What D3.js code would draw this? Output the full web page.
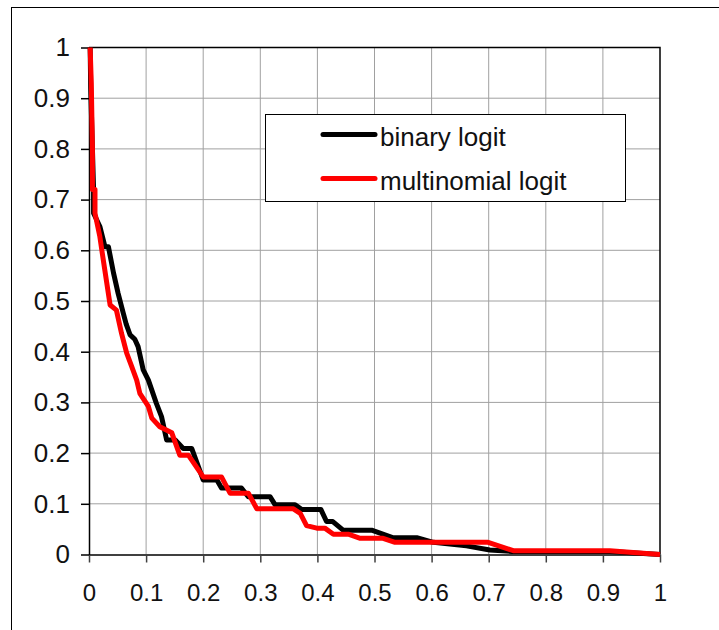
<!DOCTYPE html>
<html>
<head>
<meta charset="utf-8">
<script src="https://cdn.jsdelivr.net/npm/d3@7"></script>
<style>
body { margin: 0; background: white; }
text { font-family: Arial, "Liberation Sans", sans-serif; fill: #111; }
</style>
</head>
<body>
<div id="chart"></div>
<script>
var ticks = [0, 0.1, 0.2, 0.3, 0.4, 0.5, 0.6, 0.7, 0.8, 0.9, 1]
var tickLabels = ["0", "0.1", "0.2", "0.3", "0.4", "0.5", "0.6", "0.7", "0.8", "0.9", "1"]
var seriesNames = ["binary logit", "multinomial logit"]
var seriesColors = ["#000000", "#ff0000"]

var binaryX = [0.002,0.003,0.006,0.008,0.008,0.019,0.028,0.034,0.043,0.051,0.06,0.065,0.072,0.08,0.086,0.095,0.104,0.118,0.127,0.136,0.151,0.165,0.18,0.2,0.224,0.232,0.267,0.279,0.317,0.326,0.361,0.372,0.406,0.416,0.427,0.445,0.495,0.533,0.574,0.603,0.661,0.702,0.74,0.912,1]
var binaryY = [1.0,0.92,0.8,0.72,0.673,0.647,0.607,0.607,0.555,0.515,0.476,0.455,0.433,0.425,0.41,0.364,0.344,0.298,0.272,0.226,0.226,0.209,0.209,0.147,0.147,0.131,0.131,0.114,0.114,0.098,0.098,0.089,0.089,0.065,0.065,0.048,0.048,0.033,0.033,0.024,0.017,0.009,0.006,0.006,0]

var multiX = [0.002,0.004,0.006,0.006,0.0105,0.0105,0.019,0.025,0.037,0.048,0.057,0.066,0.075,0.0835,0.089,0.104,0.11,0.124,0.145,0.159,0.174,0.2,0.232,0.247,0.279,0.294,0.358,0.37,0.381,0.399,0.413,0.428,0.454,0.475,0.515,0.536,0.699,0.743,0.912,1]
var multiY = [1.0,0.93,0.8,0.72,0.72,0.673,0.627,0.581,0.492,0.482,0.436,0.397,0.37,0.344,0.318,0.292,0.269,0.252,0.24,0.196,0.196,0.153,0.153,0.121,0.121,0.09,0.09,0.081,0.057,0.052,0.052,0.04,0.04,0.032,0.032,0.024,0.024,0.0075,0.0075,0]

var width = 719, height = 630

var svg = d3.select("#chart").append("svg")
    .attr("width", width)
    .attr("height", height)

// outer frame (runs off the right and bottom)
svg.append("rect")
    .attr("x", 11.5).attr("y", 7.5)
    .attr("width", 800).attr("height", 700)
    .attr("fill", "none").attr("stroke", "#000")

var x = d3.scaleLinear().domain([0, 1]).range([89, 660])
var y = d3.scaleLinear().domain([0, 1]).range([554.5, 47.5])

// grid
svg.selectAll(".vgrid").data(ticks.slice(1, -1)).enter().append("line")
    .attr("x1", function(d) { return x(d) }).attr("x2", function(d) { return x(d) })
    .attr("y1", y(0)).attr("y2", y(1))
    .attr("stroke", "#a0a0a0")
svg.selectAll(".hgrid").data(ticks.slice(1, -1)).enter().append("line")
    .attr("y1", function(d) { return y(d) }).attr("y2", function(d) { return y(d) })
    .attr("x1", x(0)).attr("x2", x(1))
    .attr("stroke", "#a0a0a0")

// top and right border
svg.append("path")
    .attr("d", "M" + x(0) + "," + y(1) + "H" + x(1) + "V" + y(0))
    .attr("fill", "none").attr("stroke", "#000").attr("stroke-width", 1.5)

// axes
var xAxis = d3.axisBottom(x).tickValues(ticks)
    .tickFormat(function(d, i) { return tickLabels[i] })
    .tickSize(8).tickSizeOuter(0).tickPadding(21)
var gx = svg.append("g").attr("transform", "translate(0," + y(0) + ")").call(xAxis)
gx.select(".domain").attr("stroke", "#404040").attr("stroke-width", 2)
gx.selectAll(".tick line").attr("stroke", "#404040").attr("stroke-width", 1.5)
gx.selectAll("text").attr("font-size", 24).attr("font-family", "Arial, 'Liberation Sans', sans-serif").attr("fill", "#111")

var yAxis = d3.axisLeft(y).tickValues(ticks)
    .tickFormat(function(d, i) { return tickLabels[i] })
    .tickSize(8).tickSizeOuter(0).tickPadding(11)
var gy = svg.append("g").attr("transform", "translate(" + x(0) + ",0)").call(yAxis)
gy.select(".domain").attr("stroke", "#000").attr("stroke-width", 1.5)
gy.selectAll(".tick line").attr("stroke", "#000").attr("stroke-width", 1.5)
gy.selectAll("text").attr("font-size", 26).attr("font-family", "Arial, 'Liberation Sans', sans-serif").attr("fill", "#111")

// curves
var line = d3.line()
    .x(function(d) { return x(d[0]) })
    .y(function(d) { return y(d[1]) })

var series = [d3.zip(binaryX, binaryY), d3.zip(multiX, multiY)]
svg.selectAll(".curve").data(series).enter().append("path")
    .attr("d", line)
    .attr("fill", "none")
    .attr("stroke", function(d, i) { return seriesColors[i] })
    .attr("stroke-width", 5)
    .attr("stroke-linejoin", "round")

// legend
var legend = svg.append("g")
legend.append("rect")
    .attr("x", 265.5).attr("y", 114.5)
    .attr("width", 360).attr("height", 87)
    .attr("fill", "#fff").attr("stroke", "#000")
var items = legend.selectAll(".item").data(seriesNames).enter().append("g")
    .attr("transform", function(d, i) { return "translate(0," + (134.5 + i * 44) + ")" })
items.append("line")
    .attr("x1", 323).attr("x2", 375)
    .attr("stroke", function(d, i) { return seriesColors[i] })
    .attr("stroke-width", 5).attr("stroke-linecap", "round")
items.append("text")
    .attr("x", 380).attr("y", 11)
    .attr("font-size", 26)
    .text(function(d) { return d })
</script>
</body>
</html>
